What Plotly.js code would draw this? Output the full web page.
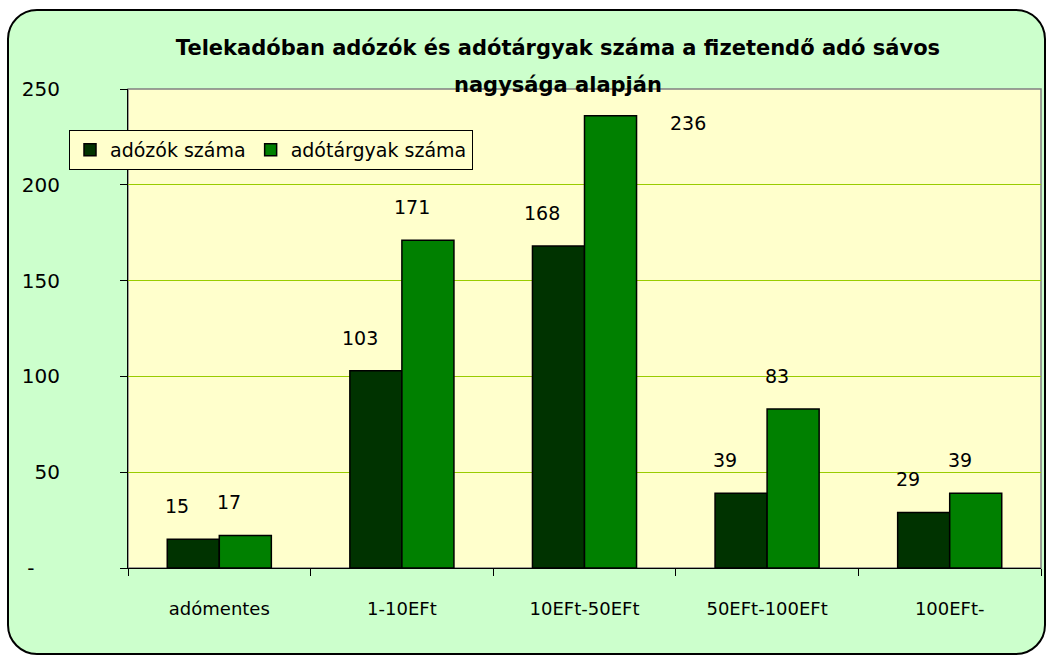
<!DOCTYPE html>
<html>
<head>
<meta charset="utf-8">
<script src="https://cdn.plot.ly/plotly-3.0.1.min.js"></script>
<style>
  html, body { margin: 0; padding: 0; background: #ffffff; }
  #frame {
    position: absolute; left: 7px; top: 9px; width: 1035px; height: 642px;
    background: #CCFFCC; border: 2px solid #000000; border-radius: 30px;
  }
  #chart { position: absolute; left: 0; top: 0; width: 1046px; height: 657px; }
</style>
</head>
<body>
<div id="frame"></div>
<div id="chart"></div>
<script>
// ---- data ----
const categories = ["adómentes", "1-10EFt", "10EFt-50EFt", "50EFt-100EFt", "100EFt-"];
const seriesNames = ["adózók száma", "adótárgyak száma"];
const adozokSzama = [15, 103, 168, 39, 29];
const adotargyakSzama = [17, 171, 236, 83, 39];
const yTickVals = [0, 50, 100, 150, 200, 250];
const yTickText = ["-\u00a0\u00a0\u00a0\u00a0", "50", "100", "150", "200", "250"];
const titleLine1 = "Telekadóban adózók és adótárgyak száma a fizetendő adó sávos";
const titleLine2 = "nagysága alapján";

// ---- style ----
const FONT = "'Comic Sans MS', 'DejaVu Sans', sans-serif";
const colors = ["#003300", "#008000"];
const W = 1046, H = 657;
const margin = { l: 128, r: 5, t: 89, b: 89, pad: 0 };
const bargap = 0.43;

const seriesValues = [adozokSzama, adotargyakSzama];
const traces = seriesValues.map((vals, i) => ({
  type: "bar",
  name: seriesNames[i],
  x: categories,
  y: vals,
  marker: { color: colors[i], line: { color: "#000000", width: 1.5 } },
  hoverinfo: "x+y+name"
}));

// data labels: placed from the data via the axes, with pixel nudges
const plotW = W - margin.l - margin.r;
const catW = plotW / categories.length;
const barW = catW * (1 - bargap) / 2;
const annotations = [];
seriesValues.forEach((vals, s) => {
  vals.forEach((v, k) => {
    let dx = (s === 0 ? -barW / 2 : barW / 2) - 16;
    let dy = 33;
    // the label of the tallest bar was moved aside in the original
    if (s === 1 && k === 2) { dx = barW / 2 + 77; dy = -7; }
    annotations.push({
      x: categories[k], y: v, xref: "x", yref: "y",
      xshift: dx, yshift: dy, showarrow: false,
      text: String(v), font: { family: FONT, size: 19, color: "#000000" }
    });
  });
});
annotations.push({
  text: "<b>" + titleLine2 + "</b>", xref: "paper", yref: "paper",
  x: (558 - margin.l) / plotW, y: 1, yshift: 4, xanchor: "center", yanchor: "middle",
  showarrow: false, font: { family: FONT, size: 21, color: "#000000" }
});

const layout = {
  width: W, height: H,
  margin: margin,
  paper_bgcolor: "rgba(0,0,0,0)",
  plot_bgcolor: "#FFFFCC",
  font: { family: FONT, color: "#000000" },
  title: {
    text: "<b>" + titleLine1 + "</b>",
    font: { family: FONT, size: 21, color: "#000000" },
    x: 558 / W, xanchor: "center", xref: "container",
    y: 1 - 48 / H, yanchor: "middle", yref: "container"
  },
  barmode: "group",
  bargap: bargap,
  bargroupgap: 0,
  showlegend: true,
  legend: {
    orientation: "h",
    x: (69 - margin.l) / plotW, y: (H - margin.b - 130) / (H - margin.t - margin.b),
    xanchor: "left", yanchor: "top",
    bgcolor: "#FFFFCC", bordercolor: "#000000", borderwidth: 1,
    font: { family: FONT, size: 19, color: "#000000" },
    itemwidth: 30, traceorder: "normal"
  },
  xaxis: {
    type: "category",
    showline: true, linecolor: "#000000", linewidth: 1,
    ticks: "outside", ticklen: 7, tickcolor: "#000000", tickson: "boundaries",
    showgrid: false, zeroline: false,
    tickfont: { family: FONT, size: 18, color: "#000000" },
    ticklabelstandoff: 24
  },
  yaxis: {
    range: [0, 250],
    tickvals: yTickVals, ticktext: yTickText,
    showline: true, linecolor: "#000000", linewidth: 1,
    ticks: "outside", ticklen: 7, tickcolor: "#000000",
    showgrid: true, gridcolor: "#99CC00", gridwidth: 1,
    zeroline: false,
    tickfont: { family: FONT, size: 20, color: "#000000" },
    ticklabelstandoff: 56
  },
  shapes: [{
    type: "rect", xref: "paper", yref: "paper", x0: 0, x1: 1, y0: 0, y1: 1,
    line: { color: "#808080", width: 1.5 }, fillcolor: "rgba(0,0,0,0)", layer: "below"
  }],
  annotations: annotations
};

Plotly.newPlot("chart", traces, layout, { displayModeBar: false, staticPlot: true });
</script>
</body>
</html>
